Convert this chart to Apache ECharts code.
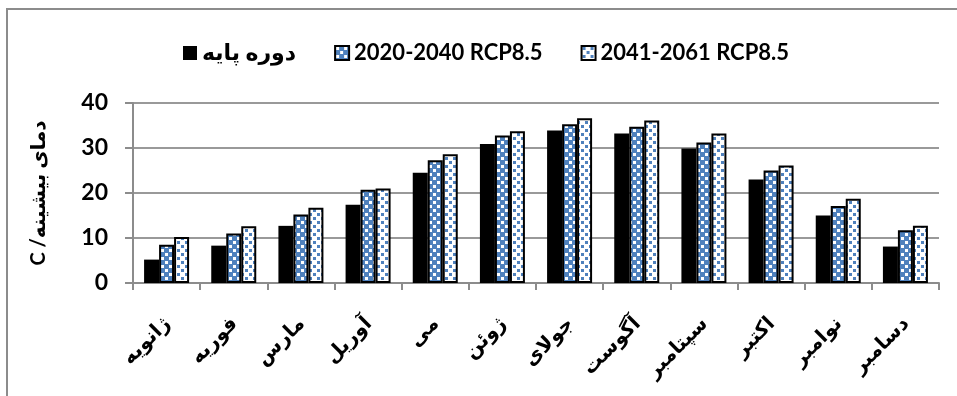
<!DOCTYPE html>
<html>
<head>
<meta charset="utf-8">
<script src="https://cdn.jsdelivr.net/npm/echarts@6/dist/echarts.min.js"></script>
<style>
  html, body { margin: 0; padding: 0; background: #fff; }
  #chart { width: 957px; height: 396px; }
</style>
</head>
<body>
<div id="chart"></div>
<script>
// Monthly maximum temperature (°C): baseline vs. two RCP8.5 future periods
const months = ['ژانویه', 'فوریه', 'مارس', 'آوریل', 'می', 'ژوئن', 'جولای', 'آگوست', 'سپتامبر', 'اکتبر', 'نوامبر', 'دسامبر'];
const seriesNames = ['دوره پایه', '2020-2040 RCP8.5', '2041-2061 RCP8.5'];
const baseline = [5.2, 8.3, 12.7, 17.4, 24.5, 30.9, 33.9, 33.2, 29.9, 23.0, 15.0, 8.1];
const rcp2020 = [8.5, 11.0, 15.2, 20.7, 27.3, 32.8, 35.3, 34.7, 31.2, 25.0, 17.1, 11.7];
const rcp2041 = [10.2, 12.6, 16.7, 21.0, 28.6, 33.7, 36.6, 36.1, 33.2, 26.1, 18.7, 12.7];
const yTicks = [0, 10, 20, 30, 40];
// wrapped in a right-to-left embedding so the unit sits at the visual start
const yAxisTitle = '\u202Bدمای بیشینه/ C\u202C';

const FONT = "Lato, 'DejaVu Sans', sans-serif";
const BLUE = '#4f81bd';

// Fill pattern: blue ground with white checker cells
function checkerPattern() {
  const c = document.createElement('canvas');
  c.width = 8; c.height = 8;
  const g = c.getContext('2d');
  g.fillStyle = BLUE; g.fillRect(0, 0, 8, 8);
  g.fillStyle = '#ffffff';
  g.fillRect(1, 1, 3, 3);
  g.fillRect(5, 5, 3, 3);
  return c;
}
// Fill pattern: white ground with small blue squares
function dotPattern() {
  const c = document.createElement('canvas');
  c.width = 8; c.height = 8;
  const g = c.getContext('2d');
  g.fillStyle = '#ffffff'; g.fillRect(0, 0, 8, 8);
  g.fillStyle = BLUE;
  g.fillRect(1, 1, 3, 3);
  g.fillRect(5, 5, 3, 3);
  return c;
}

const chart = echarts.init(document.getElementById('chart'), null, { renderer: 'canvas' });

const option = {
  animation: false,
  backgroundColor: '#fff',
  textStyle: { fontFamily: FONT },
  graphic: [{
    type: 'rect',
    shape: { x: 7, y: 9, width: 960, height: 400 },
    style: { fill: 'none', stroke: '#8c8c8c', lineWidth: 2 },
    silent: true
  }],
  legend: {
    left: 178,
    top: 37,
    itemGap: 38,
    itemWidth: 14,
    itemHeight: 14,
    icon: 'rect',
    textStyle: { fontFamily: FONT, fontWeight: 'bold', fontSize: 22, color: '#000' },
    data: seriesNames
  },
  grid: { left: 133, right: 18, top: 103, bottom: 113, containLabel: false },
  xAxis: {
    type: 'category',
    data: months,
    axisLine: { lineStyle: { color: '#8c8c8c', width: 2 } },
    axisTick: { show: true, length: 7, lineStyle: { color: '#8c8c8c', width: 2 } },
    axisLabel: {
      rotate: 45,
      margin: 37,
      interval: 0,
      fontFamily: FONT,
      fontWeight: 'bold',
      fontSize: 20,
      color: '#000'
    }
  },
  yAxis: {
    type: 'value',
    min: yTicks[0],
    max: yTicks[yTicks.length - 1],
    interval: 10,
    name: yAxisTitle,
    nameLocation: 'middle',
    nameGap: 84,
    nameRotate: 90,
    nameTextStyle: { fontFamily: FONT, fontWeight: 'bold', fontSize: 20, color: '#000' },
    axisLine: { show: true, lineStyle: { color: '#8c8c8c', width: 2 } },
    axisTick: { show: true, length: 8, lineStyle: { color: '#8c8c8c', width: 2 } },
    axisLabel: {
      margin: 25,
      fontFamily: FONT,
      fontWeight: 'bold',
      fontSize: 23,
      color: '#000'
    },
    splitLine: { lineStyle: { color: '#999', width: 2 } }
  },
  series: [
    {
      name: seriesNames[0],
      type: 'bar',
      data: baseline,
      barGap: '0%',
      barCategoryGap: '33%',
      itemStyle: { color: '#000' }
    },
    {
      name: seriesNames[1],
      type: 'bar',
      data: rcp2020,
      itemStyle: {
        color: { image: checkerPattern(), repeat: 'repeat' },
        borderColor: '#000',
        borderWidth: 2
      }
    },
    {
      name: seriesNames[2],
      type: 'bar',
      data: rcp2041,
      itemStyle: {
        color: { image: dotPattern(), repeat: 'repeat' },
        borderColor: '#000',
        borderWidth: 2
      }
    }
  ]
};

chart.setOption(option);
</script>
</body>
</html>
